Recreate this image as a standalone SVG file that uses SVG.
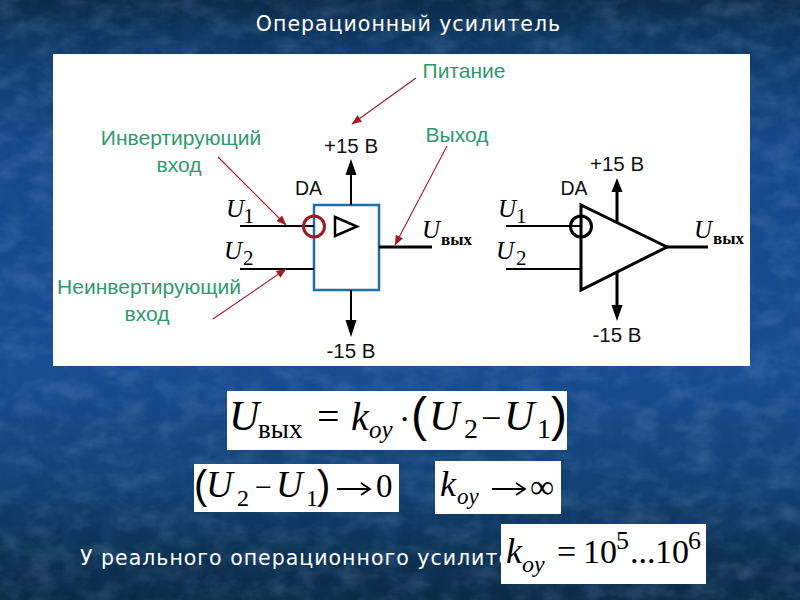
<svg xmlns="http://www.w3.org/2000/svg" width="800" height="600" viewBox="0 0 800 600">
<style>
.g{font-family:"Liberation Sans",Arial,sans-serif;font-size:21px;fill:#2e9a6c;text-anchor:middle}
.t{font-family:"DejaVu Sans",sans-serif;fill:#fff;font-size:20.5px;letter-spacing:1px}
.l{font-family:"Liberation Sans",Arial,sans-serif;font-size:20.5px;fill:#111;text-anchor:middle}
.m{font-family:"Liberation Serif",serif;fill:#000}
.par{font-family:"Liberation Sans",Arial,sans-serif;fill:#000}
.i{font-style:italic}
.w{stroke:#000;stroke-width:2;fill:none}
.p{stroke:#000;stroke-width:3;fill:none}
.r{stroke:#a01a22;stroke-width:1.100;fill:none}
.box{fill:#fff}
</style>
<defs>
<linearGradient id="bg" x1="0" y1="0" x2="0" y2="1">
<stop offset="0" stop-color="#0b2a47"/><stop offset=".08" stop-color="#0e3a68"/><stop offset=".25" stop-color="#15498c"/><stop offset=".62" stop-color="#174d92"/><stop offset=".82" stop-color="#113f72"/><stop offset=".92" stop-color="#0c3154"/><stop offset="1" stop-color="#0a2a45"/>
</linearGradient>
<filter id="tex" x="0" y="0" width="100%" height="100%">
<feTurbulence type="fractalNoise" baseFrequency="0.035 0.055" numOctaves="5" seed="11"/>
<feColorMatrix values="0 0 0 0 0.45  0 0 0 0 0.62  0 0 0 0 0.9  1.5 0 0 0 -0.62"/>
</filter>
<filter id="tex2" x="0" y="0" width="100%" height="100%">
<feTurbulence type="fractalNoise" baseFrequency="0.05 0.035" numOctaves="4" seed="4"/>
<feColorMatrix values="0 0 0 0 0.03  0 0 0 0 0.12  0 0 0 0 0.3  1.5 0 0 0 -0.6"/>
</filter>
<marker id="ra" viewBox="0 0 10 10" refX="9.500" refY="5" markerWidth="12" markerHeight="10" markerUnits="userSpaceOnUse" orient="auto"><path d="M0 1 L10 5 L0 9 Z" fill="#a01a22"/></marker>
</defs>
<rect id="background" width="800" height="600" fill="url(#bg)"/>
<rect width="800" height="600" filter="url(#tex2)" opacity=".3"/>
<rect width="800" height="600" filter="url(#tex)" opacity=".22"/>
<text id="title" class="t" x="408.500" y="31" text-anchor="middle">Операционный усилитель</text>
<rect id="panel" x="53" y="54" width="697" height="312" class="box"/>

<g id="labels-green">
<text class="g" x="464" y="78">Питание</text>
<text class="g" x="457" y="142">Выход</text>
<text class="g" x="181" y="145">Инвертирующий</text>
<text class="g" x="179" y="172">вход</text>
<text class="g" x="149" y="294">Неинвертирующий</text>
<text class="g" x="147" y="321">вход</text>
</g>

<g id="op-amp-rect">
<rect x="314" y="205" width="65" height="85" fill="#fff" stroke="#1f6fa5" stroke-width="2.500"/>
<path d="M335 217 L357 226.500 L335 236 Z" fill="none" stroke="#000" stroke-width="2.500"/>
<text class="l" x="308.500" y="195" style="font-size:19.500px">DA</text>
<text class="l" x="351" y="153">+15 В</text>
<text class="l" x="351" y="358">-15 В</text>
</g>
<g id="op-amp-tri">
<path d="M581 205 L667 247 L581 290 Z" fill="#fff" stroke="#000" stroke-width="3"/>
<text class="l" x="574" y="195" style="font-size:19.500px">DA</text>
<text class="l" x="617" y="171">+15 В</text>
<text class="l" x="617" y="342">-15 В</text>
<circle cx="581" cy="226.500" r="10.500" fill="none" stroke="#000" stroke-width="3"/>
</g>

<g id="math-labels">
<text class="m i" x="226" y="217" font-size="25">U</text><text class="m" x="243.500" y="223" font-size="21">1</text>
<text class="m i" x="224" y="259" font-size="25">U</text><text class="m" x="243" y="265" font-size="21">2</text>
<text class="m i" x="422" y="238" font-size="25">U</text><text class="m" x="441" y="245" font-size="17" font-weight="bold">вых</text>
<text class="m i" x="498" y="217" font-size="25">U</text><text class="m" x="516" y="223" font-size="21">1</text>
<text class="m i" x="496" y="259" font-size="25">U</text><text class="m" x="516" y="265" font-size="21">2</text>
<text class="m i" x="694" y="238" font-size="25">U</text><text class="m" x="713" y="244" font-size="17" font-weight="bold">вых</text>
</g>

<g id="connectors">
<path class="w" d="M240 226 H314 M240 269 H314"/>
<path class="p" d="M379 247 H432"/>
<path class="w" d="M351 205 V172 M351 290 V322"/>
<path d="M351 159 L356.500 175 H345.500 Z M351 337 L356.500 320 H345.500 Z" fill="#000"/>
<path class="w" d="M506 226 H581 M506 269 H581"/>
<path class="p" d="M667 247 H708"/>
<path class="p" d="M617 223 V190 M617 272 V306" stroke-width="2.500"/>
<path d="M617 178 L622.500 192 H611.500 Z M617 321 L622.500 305 H611.500 Z" fill="#000"/>
</g>
<g id="callouts">
<circle cx="314" cy="226.500" r="10.500" fill="none" stroke="#a01a22" stroke-width="3"/>
<path class="r" d="M416 78 L352 124" marker-end="url(#ra)"/>
<path class="r" d="M447 146 L395 245" marker-end="url(#ra)"/>
<path class="r" d="M218 157 L286 225" marker-end="url(#ra)"/>
<path class="r" d="M213 319 L286 269" marker-end="url(#ra)"/>
</g>

<g id="formula-1">
<rect x="227" y="391" width="340" height="59" class="box"/>
<text class="m i" x="229" y="430" font-size="42">U</text>
<text class="m" x="258" y="438" font-size="27">вых</text>
<text class="m" x="317" y="430" font-size="40">=</text>
<text class="m i" x="351" y="430" font-size="40">k</text>
<text class="m i" x="369" y="438" font-size="25">oy</text>
<text class="m" x="399" y="430" font-size="34">·</text>
<text class="par" x="411" y="431" font-size="48">(</text>
<text class="m i" x="429" y="430" font-size="42">U</text>
<text class="m" x="464" y="438" font-size="28">2</text>
<text class="m" x="481" y="430" font-size="36">−</text>
<text class="m i" x="504" y="430" font-size="42">U</text>
<text class="m" x="537" y="438" font-size="28">1</text>
<text class="par" x="551" y="431" font-size="48">)</text>
</g>
<g id="formula-2">
<rect x="194" y="464" width="205" height="48" class="box"/>
<text class="par" x="194" y="499" font-size="40">(</text>
<text class="m i" x="206" y="497" font-size="37">U</text>
<text class="m" x="237" y="506" font-size="24">2</text>
<text class="m" x="255" y="497" font-size="30">−</text>
<text class="m i" x="276" y="497" font-size="37">U</text>
<text class="m" x="306" y="506" font-size="24">1</text>
<text class="par" x="317" y="499" font-size="40">)</text>
<path d="M337 489 H369 M361 483 L370 489 L361 495" fill="none" stroke="#000" stroke-width="1.800"/>
<text class="m" x="376" y="497" font-size="33">0</text>
</g>
<g id="formula-3">
<rect x="435" y="461" width="126" height="53" class="box"/>
<text class="m i" x="440" y="496" font-size="36">k</text>
<text class="m i" x="457" y="504" font-size="23">oy</text>
<path d="M492 489 H524 M516 483 L525 489 L516 495" fill="none" stroke="#000" stroke-width="1.800"/>
<text class="m" x="530" y="498" font-size="34">∞</text>
</g>
<text id="caption" class="t" x="80" y="565">У реального операционного усилителя</text>
<g id="formula-4">
<rect x="501" y="524" width="205" height="60" class="box"/>
<text class="m i" x="506" y="563" font-size="36">k</text>
<text class="m i" x="522" y="572" font-size="24" fill="#222">oy</text>
<text class="m" x="557" y="563" font-size="34">=</text>
<text class="m" x="583" y="563" font-size="34">10</text>
<text class="m" x="616" y="549" font-size="26">5</text>
<text class="m" x="630" y="563" font-size="34">...</text>
<text class="m" x="655" y="563" font-size="34">10</text>
<text class="m" x="688" y="549" font-size="26">6</text>
</g>
</svg>
